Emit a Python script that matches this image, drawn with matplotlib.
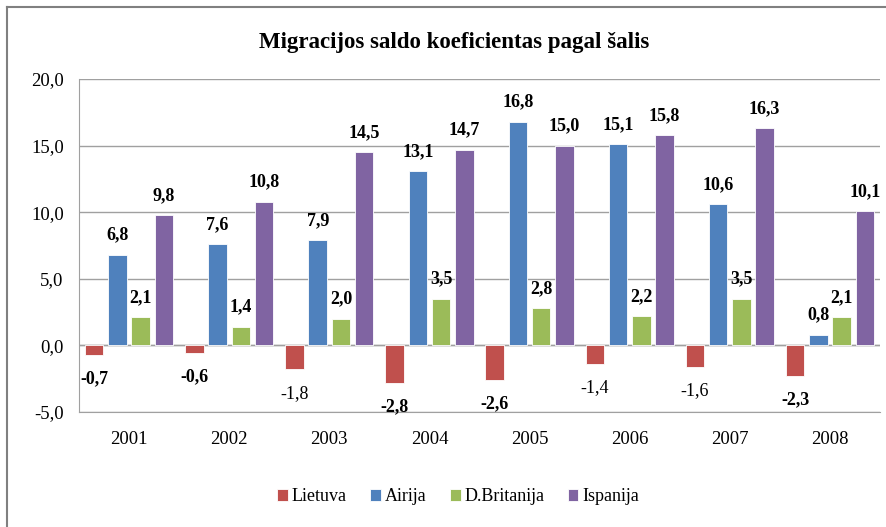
import numpy as np
from matplotlib import pyplot as plt
from matplotlib.lines import Line2D

years = ['2001', '2002', '2003', '2004', '2005', '2006', '2007', '2008']
lietuva = [-0.7, -0.6, -1.8, -2.8, -2.6, -1.4, -1.6, -2.3]
airija = [6.8, 7.6, 7.9, 13.1, 16.8, 15.1, 10.6, 0.8]
britanija = [2.1, 1.4, 2.0, 3.5, 2.8, 2.2, 3.5, 2.1]
ispanija = [9.8, 10.8, 14.5, 14.7, 15.0, 15.8, 16.3, 10.1]
series_names = ['Lietuva', 'Airija', 'D.Britanija', 'Ispanija']
colors = ['#C0504D', '#4F81BD', '#9BBB59', '#8064A2']

plt.rcParams['font.family'] = ['Liberation Serif', 'DejaVu Serif']

fig = plt.figure(figsize=(8.86, 5.27), dpi=100)
ax = fig.add_axes([79/886, 115/527, 801/886, 333/527])

def fmt(v):
    return ('%.1f' % v).replace('.', ',')

x = np.arange(len(years))
w = 0.185
step = 0.232
all_series = [lietuva, airija, britanija, ispanija]
for i, (vals, name, c) in enumerate(zip(all_series, series_names, colors)):
    pos = x + (i - 1.5) * step
    ax.bar(pos, vals, w, color=c, edgecolor='white', linewidth=0.6, label=name, zorder=3)
    for p, v in zip(pos, vals):
        if v < 0:
            ax.annotate(fmt(v), (p, v), xytext=(0, -11), textcoords='offset points',
                        ha='center', va='top', fontsize=13,
                        fontweight='bold' if v not in (-1.8, -1.4, -1.6) else 'normal')
        else:
            ax.annotate(fmt(v), (p, v), xytext=(0, 8), textcoords='offset points',
                        ha='center', va='bottom', fontsize=13, fontweight='bold')

ax.set_ylim(-5, 20)
ax.set_xlim(-0.5, len(years) - 0.5)
ax.set_yticks(np.arange(-5, 20.1, 5))
ax.set_yticklabels([fmt(t) for t in np.arange(-5, 20.1, 5)], fontsize=13.5)
ax.set_xticks(x)
ax.set_xticklabels(years, fontsize=13.5)
ax.tick_params(axis='x', length=0, pad=14)
ax.tick_params(axis='y', length=0, pad=11)
ax.yaxis.grid(True, color='#A0A0A0', linewidth=1, zorder=0)
ax.axhline(0, color='#A0A0A0', linewidth=1, zorder=2)
for s in ['top', 'right']:
    ax.spines[s].set_visible(False)
ax.spines['left'].set_color('#A0A0A0')
ax.spines['bottom'].set_color('#A0A0A0')

fig.text(0.512, 0.92, 'Migracijos saldo koeficientas pagal šalis', ha='center', va='center',
         fontsize=16.5, fontweight='bold')

fig.legend(loc='center', bbox_to_anchor=(0.517, 0.057), ncol=4, frameon=False, fontsize=13,
           handlelength=0.6, handleheight=0.6, handletextpad=0.2, columnspacing=1.3)

fig.add_artist(Line2D([7/886, 7/886], [0, 1 - 7/527], color='#808080', linewidth=1.5))
fig.add_artist(Line2D([7/886, 1], [1 - 7/527, 1 - 7/527], color='#808080', linewidth=1.5))

fig.savefig('out.png', dpi=100)
